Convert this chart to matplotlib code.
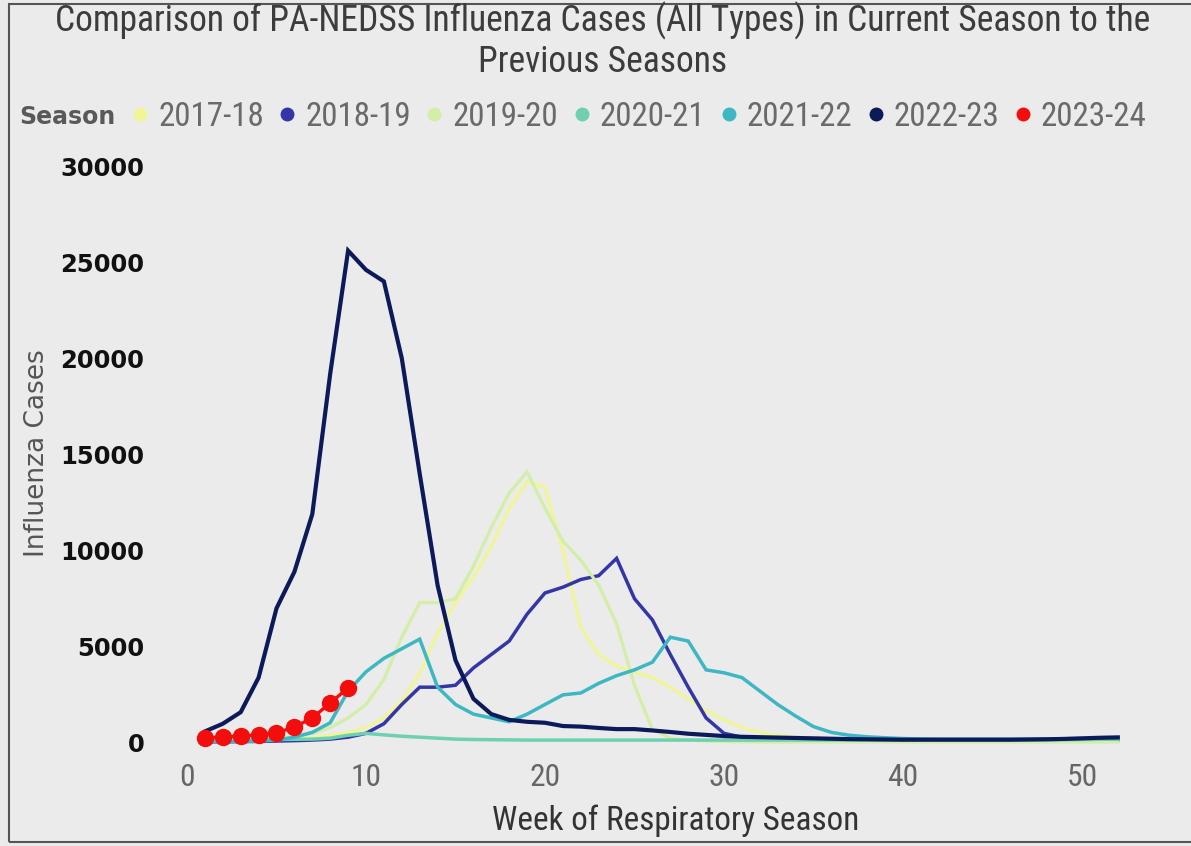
import matplotlib
matplotlib.use("Agg")
import matplotlib.pyplot as plt
from matplotlib.lines import Line2D
from matplotlib.patches import Rectangle
from matplotlib import font_manager
from matplotlib.font_manager import FontProperties

# ---------- pick a condensed font if one is installed ----------
prefs = ["liberationsansnarrow-regular", "robotocondensed-regular", "dejavusanscondensed.ttf",
         "opensans_condensed-regular", "opensans-condensedregular", "notosans-condensed.ttf",
         "notosans-condensedregular"]
narrow_path = None
allf = [f.fname for f in font_manager.fontManager.ttflist]
for p in prefs:
    for fn in allf:
        if p in fn.lower().replace(" ", ""):
            narrow_path = fn
            break
    if narrow_path:
        break
if narrow_path is None:
    for fn in allf:
        low = fn.lower()
        if ("condensed" in low or "narrow" in low) and "bold" not in low and "italic" not in low \
                and "light" not in low and "semi" not in low and "extra" not in low and "thin" not in low \
                and "medium" not in low and "black" not in low and "oblique" not in low:
            narrow_path = fn
            break


def narrow(size):
    if narrow_path:
        return FontProperties(fname=narrow_path, size=size)
    return FontProperties(family="Roboto", size=size)


# ---------- data ----------
weeks = list(range(1, 53))

s2017_18 = [80, 90, 100, 120, 150, 200, 280, 400, 550, 800, 1300, 2200, 3600, 5700, 7300, 8600,
            10200, 12200, 13600, 13300, 10000, 6000, 4600, 4000, 3700, 3400, 2900, 2300, 1700, 1200,
            800, 550, 400, 300, 250, 200, 170, 150, 130, 120, 110, 100, 100, 100, 100, 100, 100, 100,
            100, 110, 120, 130]
s2018_19 = [50, 60, 70, 80, 100, 120, 150, 200, 300, 500, 1000, 2000, 2900, 2900, 3000, 3900,
            4600, 5300, 6700, 7800, 8100, 8500, 8700, 9600, 7500, 6400, 4600, 2900, 1300, 500,
            300, 250, 200, 170, 150, 140, 130, 120, 110, 100, 100, 100, 100, 100, 100, 100, 100, 100,
            110, 120, 130, 150]
s2019_20 = [100, 120, 150, 200, 250, 350, 500, 800, 1300, 2000, 3300, 5500, 7300, 7300, 7500, 9200,
            11200, 13000, 14100, 12200, 10500, 9500, 8200, 6200, 3000, 700, 250, 150, 100, 80,
            60, 50, 50, 50, 50, 50, 50, 50, 50, 50, 50, 50, 50, 50, 50, 50, 50, 50, 50, 50, 50, 50]
s2020_21 = [150, 150, 160, 170, 180, 190, 200, 250, 400, 500, 420, 350, 300, 250, 200, 180,
            170, 160, 150, 150, 150, 150, 150, 150, 150, 150, 150, 150, 150, 150, 150, 150, 150,
            150, 150, 150, 150, 150, 150, 150, 150, 150, 150, 150, 150, 150, 150, 160, 170, 180,
            190, 200]
s2021_22 = [50, 60, 80, 100, 150, 300, 550, 1050, 2700, 3700, 4400, 4900, 5400, 2900, 2000, 1500,
            1300, 1100, 1500, 2000, 2500, 2600, 3100, 3500, 3800, 4200, 5500, 5300, 3800, 3650,
            3400, 2700, 2000, 1400, 850, 550, 400, 320, 270, 230, 210, 200, 200, 200, 200, 200, 200,
            210, 220, 230, 250, 260]
s2022_23 = [600, 1000, 1600, 3400, 7000, 8900, 11900, 19200, 25600, 24600, 24000, 20000, 14000,
            8200, 4300, 2300, 1500, 1200, 1100, 1050, 880, 850, 780, 720, 720, 650, 570, 480, 420,
            360, 320, 300, 280, 260, 240, 220, 200, 190, 180, 170, 170, 170, 170, 170, 170, 170,
            180, 190, 210, 240, 270, 290]
s2023_24 = [250, 310, 360, 420, 520, 830, 1300, 2080, 2860]

seasons = ["2017-18", "2018-19", "2019-20", "2020-21", "2021-22", "2022-23", "2023-24"]
series = [s2017_18, s2018_19, s2019_20, s2020_21, s2021_22, s2022_23, s2023_24]
colors = ["#f0f597", "#3436a6", "#d3eea6", "#6fd0b0", "#3db7c2", "#0c1a5a", "#f40d0d"]
widths = [2.3, 2.5, 2.3, 2.5, 2.5, 3.0, 2.4]

y_ticks = [0, 5000, 10000, 15000, 20000, 25000, 30000]
x_ticks = [0, 10, 20, 30, 40, 50]

TITLE = "Comparison of PA-NEDSS Influenza Cases (All Types) in Current Season to the\nPrevious Seasons"

# ---------- figure ----------
BG = "#ebebeb"
fig = plt.figure(figsize=(11.91, 8.46), dpi=100, facecolor=BG)
renderer = fig.canvas.get_renderer()


def fit_size(text, base, target, dim="w"):
    t = fig.text(0, 0, text, fontproperties=narrow(base))
    bb = t.get_window_extent(renderer)
    t.remove()
    cur = bb.width if dim == "w" else bb.height
    return base * target / cur


title_size = fit_size(TITLE.split("\n")[0], 20, 1095)
xlabel_size = fit_size("Week of Respiratory Season", 20, 367)
leg_size = fit_size("2017-18", 20, 106)
xt_size = min(fit_size("10", 20, 31), 24)

ax = fig.add_axes([151.2 / 1191, 1 - 754.5 / 846, (1153.6 - 151.2) / 1191, (754.5 - 146.8) / 846])
ax.set_facecolor(BG)

for name, vals, c, lw in zip(seasons, series, colors, widths):
    x = weeks[:len(vals)]
    if name == "2023-24":
        ax.plot(x, vals, color=c, lw=lw, marker="o", markersize=11.5, zorder=5)
    else:
        ax.plot(x, vals, color=c, lw=lw, solid_joinstyle="miter", zorder=3)

ax.set_xlim(-2, 54)
ax.set_ylim(-600, 31000)
ax.set_xticks(x_ticks)
ax.set_yticks(y_ticks)
ax.set_yticklabels([str(v) for v in y_ticks], fontsize=17.5, fontweight="bold", color="#111111",
                   family="DejaVu Sans")
ax.set_xticklabels([str(v) for v in x_ticks], color="#666666")
for lab in ax.get_xticklabels():
    lab.set_fontproperties(narrow(xt_size))
ax.tick_params(axis="both", length=0)
ax.tick_params(axis="y", pad=5)
ax.tick_params(axis="x", pad=6)
for s in ax.spines.values():
    s.set_visible(False)

fig.text(37 / 1191, 1 - 453 / 846, "Influenza Cases", rotation=90, ha="center", va="center",
         fontsize=19, color="#555555", family="DejaVu Sans")
fig.text(676 / 1191, 1 - 821 / 846, "Week of Respiratory Season", ha="center", va="center",
         fontproperties=narrow(xlabel_size), color="#333333")
fig.text(603 / 1191, 1 - 41 / 846, TITLE, ha="center", va="center",
         fontproperties=narrow(title_size), color="#3c3c3c", linespacing=1.15)

fig.text(19 / 1191, 1 - 117 / 846, "Season", ha="left", va="center", fontsize=17,
         fontweight="bold", color="#595959", family="DejaVu Sans")

# legend geometry in pixels -> font units
fs_px = leg_size * 100 / 72
handle_px, pad_px, spacing_px = 20, 8, 147.5
col_px = spacing_px - (handle_px + pad_px + 106)
handles = [Line2D([], [], ls="", marker="o", markersize=9, color=c) for c in colors]
leg = fig.legend(handles, seasons, loc="center left", bbox_to_anchor=(130 / 1191, 1 - 117 / 846),
                 ncol=7, frameon=False, handlelength=handle_px / fs_px, handletextpad=pad_px / fs_px,
                 columnspacing=col_px / fs_px, borderpad=0, borderaxespad=0,
                 prop=narrow(leg_size))
for t in leg.get_texts():
    t.set_color("#6a6a6a")

fig.patches.append(Rectangle((9 / 1191, 4 / 846), 1.2, 1 - 8 / 846, transform=fig.transFigure,
                             fill=False, edgecolor="#555555", lw=1.5))

fig.savefig("out.png", dpi=100, facecolor=BG)
